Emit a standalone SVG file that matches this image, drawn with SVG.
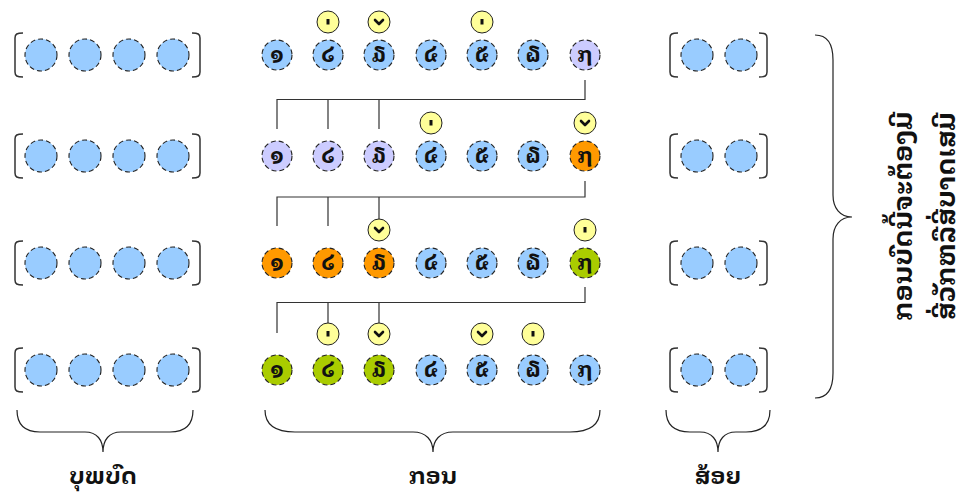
<svg xmlns="http://www.w3.org/2000/svg" width="969" height="500" viewBox="0 0 969 500">
<defs>
<style>
.b{fill:#99ccff}.p{fill:#ccccff}.o{fill:#ff9900}.g{fill:#aacc00}
.n{stroke:#222;stroke-width:1.1;stroke-dasharray:5,3}
.y{fill:#ffff99;stroke:#222;stroke-width:1}
.t{font-family:"Noto Sans Lao Looped","Noto Serif Lao","Phetsarath OT","Saysettha OT","DejaVu Sans",sans-serif;text-anchor:middle;fill:#111;font-weight:bold}
.d{font-size:22px}
.lbl{font-size:23px}
.rot{font-size:26px}
.br{fill:none;stroke:#333;stroke-width:1.5}
.cb{fill:none;stroke:#222;stroke-width:1.2}
.ln{fill:none;stroke:#333;stroke-width:1.2}
.dot{fill:#111}
.chev{fill:none;stroke:#111;stroke-width:2.6;stroke-linecap:round;stroke-linejoin:round}
</style>
<g id="side4">
<path class="br" d="M23,-22 C17,-22 15,-21 15,-17 V17 C15,21 17,22 23,22"/>
<path class="br" d="M192,-22 C198,-22 200,-21 200,-17 V17 C200,21 198,22 192,22"/>
<circle class="b n" cx="41" cy="0" r="16"/>
<circle class="b n" cx="85" cy="0" r="16"/>
<circle class="b n" cx="129" cy="0" r="16"/>
<circle class="b n" cx="173" cy="0" r="16"/>
</g>
<g id="side2">
<path class="br" d="M678,-22 C672,-22 670,-21 670,-17 V17 C670,21 672,22 678,22"/>
<path class="br" d="M759,-22 C765,-22 767,-21 767,-17 V17 C767,21 765,22 759,22"/>
<circle class="b n" cx="697" cy="0" r="16"/>
<circle class="b n" cx="741" cy="0" r="16"/>
</g>
<g id="mdot"><circle class="y" r="11"/><rect class="dot" x="-1.5" y="-3" width="3" height="5.5"/></g>
<g id="mchev"><circle class="y" r="11"/><polyline class="chev" points="-4,-2 0,2 4,-2"/></g>
</defs>

<g id="prelude">
<use href="#side4" y="55"/>
<use href="#side4" y="156"/>
<use href="#side4" y="263"/>
<use href="#side4" y="370"/>
</g>
<g id="coda">
<use href="#side2" y="55"/>
<use href="#side2" y="156"/>
<use href="#side2" y="263"/>
<use href="#side2" y="370"/>
</g>

<g id="connectors">
<path class="ln" d="M585,80 V99.5 H277 V129 M328,99.5 V129 M379,99.5 V129"/>
<path class="ln" d="M585,181 V197 H277 V226 M328,197 V226 M379,197 V219"/>
<path class="ln" d="M585,287 V302.5 H277 V333 M328,302.5 V323 M379,302.5 V323"/>
</g>

<g id="row1">
<use href="#mdot" x="328" y="22"/>
<use href="#mchev" x="379" y="22"/>
<use href="#mdot" x="482" y="22"/>
<circle class="b n" cx="277" cy="55" r="15"/><text class="t d" x="277" y="62">໑</text>
<circle class="b n" cx="328" cy="55" r="15"/><text class="t d" x="328" y="62">໒</text>
<circle class="b n" cx="379" cy="55" r="15"/><text class="t d" x="379" y="62">໓</text>
<circle class="b n" cx="431" cy="55" r="15"/><text class="t d" x="431" y="62">໔</text>
<circle class="b n" cx="482" cy="55" r="15"/><text class="t d" x="482" y="62">໕</text>
<circle class="b n" cx="533" cy="55" r="15"/><text class="t d" x="533" y="62">໖</text>
<circle class="p n" cx="585" cy="55" r="15"/><text class="t d" x="585" y="62">໗</text>
</g>

<g id="row2">
<use href="#mdot" x="431" y="123"/>
<use href="#mchev" x="585" y="123"/>
<circle class="p n" cx="277" cy="156" r="15"/><text class="t d" x="277" y="163">໑</text>
<circle class="p n" cx="328" cy="156" r="15"/><text class="t d" x="328" y="163">໒</text>
<circle class="p n" cx="379" cy="156" r="15"/><text class="t d" x="379" y="163">໓</text>
<circle class="b n" cx="431" cy="156" r="15"/><text class="t d" x="431" y="163">໔</text>
<circle class="b n" cx="482" cy="156" r="15"/><text class="t d" x="482" y="163">໕</text>
<circle class="b n" cx="533" cy="156" r="15"/><text class="t d" x="533" y="163">໖</text>
<circle class="o n" cx="585" cy="156" r="15"/><text class="t d" x="585" y="163">໗</text>
</g>

<g id="row3">
<use href="#mchev" x="379" y="230"/>
<use href="#mdot" x="585" y="230"/>
<circle class="o n" cx="277" cy="263" r="15"/><text class="t d" x="277" y="270">໑</text>
<circle class="o n" cx="328" cy="263" r="15"/><text class="t d" x="328" y="270">໒</text>
<circle class="o n" cx="379" cy="263" r="15"/><text class="t d" x="379" y="270">໓</text>
<circle class="b n" cx="431" cy="263" r="15"/><text class="t d" x="431" y="270">໔</text>
<circle class="b n" cx="482" cy="263" r="15"/><text class="t d" x="482" y="270">໕</text>
<circle class="b n" cx="533" cy="263" r="15"/><text class="t d" x="533" y="270">໖</text>
<circle class="g n" cx="585" cy="263" r="15"/><text class="t d" x="585" y="270">໗</text>
</g>

<g id="row4">
<use href="#mdot" x="328" y="334"/>
<use href="#mchev" x="379" y="334"/>
<use href="#mchev" x="482" y="334"/>
<use href="#mdot" x="533" y="334"/>
<circle class="g n" cx="277" cy="370" r="15"/><text class="t d" x="277" y="377">໑</text>
<circle class="g n" cx="328" cy="370" r="15"/><text class="t d" x="328" y="377">໒</text>
<circle class="g n" cx="379" cy="370" r="15"/><text class="t d" x="379" y="377">໓</text>
<circle class="b n" cx="431" cy="370" r="15"/><text class="t d" x="431" y="377">໔</text>
<circle class="b n" cx="482" cy="370" r="15"/><text class="t d" x="482" y="377">໕</text>
<circle class="b n" cx="533" cy="370" r="15"/><text class="t d" x="533" y="377">໖</text>
<circle class="b n" cx="585" cy="370" r="15"/><text class="t d" x="585" y="377">໗</text>
</g>

<g id="braces">
<path class="cb" d="M17,410 C17,425 25,432 40,432 H85 C97,432 103,440 103,452 C103,440 109,432 121,432 H170 C185,432 193,425 193,410"/>
<path class="cb" d="M265,410 C265,425 275,432 295,432 H413 C426,432 433,440 433,452 C433,440 440,432 453,432 H570 C590,432 600,425 600,410"/>
<path class="cb" d="M666,410 C666,425 674,432 690,432 H700 C712,432 718,440 718,452 C718,440 724,432 736,432 H746 C762,432 770,425 770,410"/>
<path class="cb" d="M815,35 C828,35 833,45 833,60 V195 C833,208 840,217 852,217 C840,217 833,226 833,239 V373 C833,388 828,398 815,398"/>
</g>

<g id="labels">
<text class="t lbl" x="103" y="484">ບຸພບົດ</text>
<text class="t lbl" x="433" y="484">ກອນ</text>
<text class="t lbl" x="718" y="484">ສ້ອຍ</text>
<text class="t rot" transform="translate(912,216) rotate(-90)">ກອນບົດນີ້ຈະຕ້ອງມີ</text>
<text class="t rot" transform="translate(955,216) rotate(-90)">ສີ່ວັກຫລືສີ່ບາດເສມີ</text>
</g>
</svg>
